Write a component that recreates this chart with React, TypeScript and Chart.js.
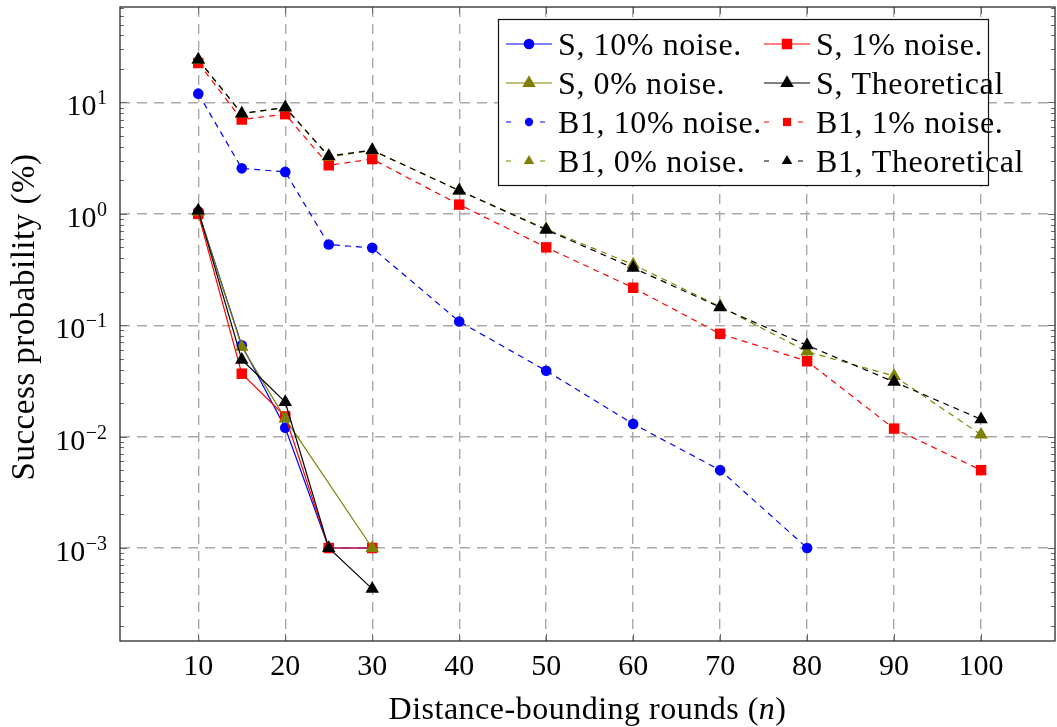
import React, { useEffect, useRef } from 'react';
import { Chart, registerables } from 'chart.js';

Chart.register(...registerables);

// ---------- data ----------
const sRounds = [10, 15, 20, 25, 30];
const sNoise10 = [1.05, 0.066, 0.012, 0.001, 0.001];
const sNoise1 = [1.0, 0.0367, 0.0152, 0.001, 0.001];
const sNoise0 = [1.05, 0.064, 0.0145, null, 0.001];
const sTheoretical = [1.07, 0.049, 0.0204, 0.001, 0.00043];

const b1Rounds = [10, 15, 20, 25, 30, 40, 50, 60, 70, 80, 90, 100];
const b1Noise10 = [12.0, 2.56, 2.38, 0.53, 0.495, 0.108, 0.039, 0.013, 0.005, 0.001, null, null];
const b1Noise1 = [22.6, 7.03, 7.85, 2.73, 3.1, 1.21, 0.5, 0.217, 0.0837, 0.0475, 0.0118, 0.005];
const b1Noise0 = [24.0, 7.9, 9.0, 3.25, 3.7, 1.62, 0.73, 0.35, 0.147, 0.058, 0.035, 0.0104];
const b1Theoretical = [24.3, 7.96, 9.02, 3.3, 3.73, 1.62, 0.72, 0.327, 0.145, 0.066, 0.031, 0.0143];

const xTickValues = [10, 20, 30, 40, 50, 60, 70, 80, 90, 100];
const yTickExponents = [-3, -2, -1, 0, 1];

const seriesLabels = [
  'S, 10% noise.',
  'S, 1% noise.',
  'S, 0% noise.',
  'S, Theoretical',
  'B1, 10% noise.',
  'B1, 1% noise.',
  'B1, 0% noise.',
  'B1, Theoretical',
];
const xTitle = 'Distance-bounding rounds (';
const xTitleVar = 'n';
const yTitle = 'Success probability (%)';

// ---------- styles ----------
const BLUE = '#0000ff';
const RED = '#ff0000';
const OLIVE = '#808000';
const BLACK = '#000000';
const SERIF = "'Liberation Serif', 'DejaVu Serif', serif";

const seriesDefs = [
  { rounds: sRounds, values: sNoise10, color: BLUE, marker: 'circle', dashed: false },
  { rounds: sRounds, values: sNoise1, color: RED, marker: 'rect', dashed: false },
  { rounds: sRounds, values: sNoise0, color: OLIVE, marker: 'triangle', dashed: false },
  { rounds: sRounds, values: sTheoretical, color: BLACK, marker: 'triangle', dashed: false },
  { rounds: b1Rounds, values: b1Noise10, color: BLUE, marker: 'circle', dashed: true },
  { rounds: b1Rounds, values: b1Noise1, color: RED, marker: 'rect', dashed: true },
  { rounds: b1Rounds, values: b1Noise0, color: OLIVE, marker: 'triangle', dashed: true },
  { rounds: b1Rounds, values: b1Theoretical, color: BLACK, marker: 'triangle', dashed: true },
];

const markerRadius = (m: string) => (m === 'circle' ? 5.3 : m === 'rect' ? 7.4 : 7.8);

function drawMarker(ctx: CanvasRenderingContext2D, m: string, x: number, y: number, r: number, color: string) {
  ctx.save();
  ctx.setLineDash([]);
  ctx.fillStyle = color;
  ctx.beginPath();
  if (m === 'circle') {
    ctx.arc(x, y, r, 0, Math.PI * 2);
  } else if (m === 'rect') {
    const s = Math.SQRT1_2 * r;
    ctx.rect(x - s, y - s, 2 * s, 2 * s);
  } else {
    ctx.moveTo(x, y - r);
    ctx.lineTo(x + 0.866 * r, y + 0.5 * r);
    ctx.lineTo(x - 0.866 * r, y + 0.5 * r);
    ctx.closePath();
  }
  ctx.fill();
  ctx.restore();
}

const decorPlugin = {
  id: 'decor',
  afterDraw(chart: any) {
    const { ctx, chartArea: a, scales } = chart;
    const xs = scales.x;
    const ys = scales.y;
    ctx.save();

    // tick marks
    ctx.strokeStyle = '#6a6a6a';
    ctx.lineWidth = 1;
    ctx.setLineDash([]);
    ctx.beginPath();
    for (const v of xTickValues) {
      const px = Math.round(xs.getPixelForValue(v)) + 0.5;
      ctx.moveTo(px, a.bottom);
      ctx.lineTo(px, a.bottom - 7);
      ctx.moveTo(px, a.top);
      ctx.lineTo(px, a.top + 7);
    }
    for (let d = -5; d <= 2; d++) {
      for (let k = 1; k <= 9; k++) {
        const v = k * Math.pow(10, d);
        const py = ys.getPixelForValue(v);
        if (py < a.top + 1 || py > a.bottom - 1) continue;
        const len = k === 1 ? 7 : 4;
        const yy = Math.round(py) + 0.5;
        ctx.moveTo(a.left, yy);
        ctx.lineTo(a.left + len, yy);
        ctx.moveTo(a.right, yy);
        ctx.lineTo(a.right - len, yy);
      }
    }
    ctx.stroke();

    // frame
    ctx.strokeStyle = '#2a2a2a';
    ctx.lineWidth = 1.3;
    ctx.strokeRect(a.left, a.top, a.right - a.left, a.bottom - a.top);

    // x tick labels
    ctx.fillStyle = '#000';
    ctx.font = `30px ${SERIF}`;
    ctx.textAlign = 'center';
    ctx.textBaseline = 'alphabetic';
    for (const v of xTickValues) {
      ctx.fillText(String(v), xs.getPixelForValue(v), 675);
    }

    // y tick labels 10^e
    ctx.textAlign = 'right';
    for (const e of yTickExponents) {
      const py = ys.getPixelForValue(Math.pow(10, e));
      const expStr = e < 0 ? '\u2212' + Math.abs(e) : String(e);
      ctx.font = `20px ${SERIF}`;
      const ew = ctx.measureText(expStr).width;
      ctx.fillText(expStr, 107, py + 2);
      ctx.font = `30px ${SERIF}`;
      ctx.fillText('10', 107 - ew - 0.5, py + 13);
    }

    // x title
    ctx.save();
    (ctx as any).letterSpacing = '0.5px';
    ctx.font = `32px ${SERIF}`;
    const w1 = ctx.measureText(xTitle).width;
    ctx.font = `italic 32px ${SERIF}`;
    const w2 = ctx.measureText(xTitleVar).width;
    ctx.font = `32px ${SERIF}`;
    const w3 = ctx.measureText(')').width;
    const total = w1 + w2 + w3;
    let tx = (a.left + a.right) / 2 - total / 2;
    const tyBase = 719;
    ctx.textAlign = 'left';
    ctx.fillText(xTitle, tx, tyBase);
    tx += w1;
    ctx.font = `italic 32px ${SERIF}`;
    ctx.fillText(xTitleVar, tx, tyBase);
    tx += w2;
    ctx.font = `32px ${SERIF}`;
    ctx.fillText(')', tx, tyBase);
    ctx.restore();

    // y title
    ctx.save();
    (ctx as any).letterSpacing = '0.5px';
    ctx.translate(34, (a.top + a.bottom) / 2 - 7);
    ctx.rotate(-Math.PI / 2);
    ctx.textAlign = 'center';
    ctx.font = `33px ${SERIF}`;
    ctx.fillText(yTitle, 0, 0);
    ctx.restore();

    // legend
    const lx = 498, ly = 19, lw = 490, lh = 166;
    ctx.fillStyle = '#fff';
    ctx.fillRect(lx, ly, lw, lh);
    ctx.strokeStyle = '#111';
    ctx.lineWidth = 1.2;
    ctx.strokeRect(lx + 0.5, ly + 0.5, lw, lh);
    const colX = [506, 764];
    const rowY = [44, 83, 122, 161];
    ctx.font = `32px ${SERIF}`;
    ctx.textAlign = 'left';
    seriesDefs.forEach((s, i) => {
      const cx = colX[i % 2];
      const cy = rowY[Math.floor(i / 2)];
      ctx.strokeStyle = s.color;
      ctx.lineWidth = 1.2;
      ctx.beginPath();
      if (s.dashed) {
        ctx.moveTo(cx, cy);
        ctx.lineTo(cx + 5, cy);
        ctx.moveTo(cx + 34, cy);
        ctx.lineTo(cx + 39, cy);
      } else {
        ctx.moveTo(cx, cy);
        ctx.lineTo(cx + 46, cy);
      }
      ctx.stroke();
      const r = markerRadius(s.marker) * (s.dashed ? 0.78 : 1);
      drawMarker(ctx, s.marker, cx + 23, cy, r, s.color);
      ctx.fillStyle = '#000';
      ctx.save();
      (ctx as any).letterSpacing = '0.6px';
      ctx.fillText(seriesLabels[i], cx + 52, cy + 11);
      ctx.restore();
    });

    ctx.restore();
  },
};

export default function App() {
  const canvasRef = useRef<HTMLCanvasElement | null>(null);

  useEffect(() => {
    if (!canvasRef.current) return;
    const N = seriesDefs.length;
    const datasets = seriesDefs.map((s, i) => ({
      label: seriesLabels[i],
      data: s.rounds
        .map((x, j) => ({ x, y: s.values[j] }))
        .filter((p) => p.y !== null && p.y !== undefined),
      borderColor: s.color,
      backgroundColor: s.color,
      borderWidth: 1.2,
      borderDash: s.dashed ? [6, 5] : [],
      pointStyle: s.marker,
      pointRadius: markerRadius(s.marker),
      pointHoverRadius: markerRadius(s.marker),
      pointBackgroundColor: s.color,
      pointBorderColor: s.color,
      pointBorderWidth: 0,
      tension: 0,
      fill: false,
      order: N - i,
    }));

    const gridColor = '#a9a9a9';
    const chart = new Chart(canvasRef.current, {
      type: 'line',
      data: { datasets },
      options: {
        animation: false,
        responsive: false,
        devicePixelRatio: 1,
        events: [],
        layout: { autoPadding: false, padding: { left: 0, top: 7, right: 2, bottom: 0 } },
        plugins: { legend: { display: false }, tooltip: { enabled: false } },
        scales: {
          x: {
            type: 'linear',
            min: 1,
            max: 108.5,
            afterBuildTicks: (sc: any) => {
              sc.ticks = xTickValues.map((v) => ({ value: v }));
            },
            afterFit: (sc: any) => {
              sc.height = 86;
            },
            ticks: { display: false },
            grid: { color: gridColor, lineWidth: 1.4, drawTicks: false },
            border: { display: false, dash: [10, 7] },
          },
          y: {
            type: 'logarithmic',
            min: Math.pow(10, -3.835),
            max: Math.pow(10, 1.857),
            afterBuildTicks: (sc: any) => {
              sc.ticks = yTickExponents.map((e) => ({ value: Math.pow(10, e) }));
            },
            afterFit: (sc: any) => {
              sc.width = 120;
            },
            ticks: { display: false },
            grid: { color: gridColor, lineWidth: 1.4, drawTicks: false },
            border: { display: false, dash: [10, 7] },
          },
        },
      },
      plugins: [decorPlugin],
    });
    return () => chart.destroy();
  }, []);

  return (
    <div style={{ position: 'absolute', left: 0, top: 0, width: 1057, height: 727, background: '#fff' }}>
      <canvas ref={canvasRef} width={1057} height={727} style={{ width: 1057, height: 727, display: 'block' }} />
    </div>
  );
}
